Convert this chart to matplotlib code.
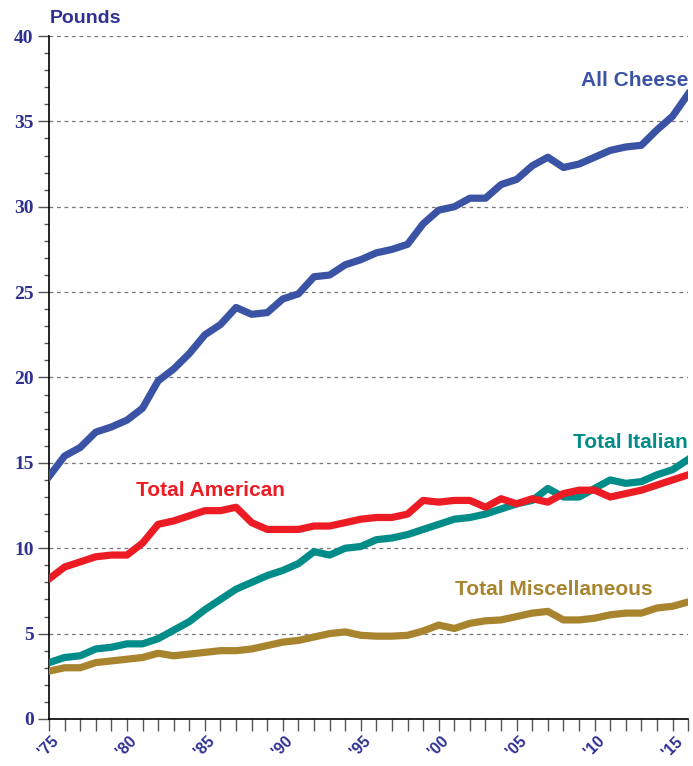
import matplotlib.pyplot as plt
import matplotlib.transforms as mtransforms
import numpy as np
from matplotlib.ticker import MultipleLocator

years = np.arange(1975, 2017)

all_cheese = [14.2, 15.4, 15.9, 16.8, 17.1, 17.5, 18.2, 19.8, 20.5, 21.4,
              22.5, 23.1, 24.1, 23.7, 23.8, 24.6, 24.9, 25.9, 26.0, 26.6,
              26.9, 27.3, 27.5, 27.8, 29.0, 29.8, 30.0, 30.5, 30.5, 31.3,
              31.6, 32.4, 32.9, 32.3, 32.5, 32.9, 33.3, 33.5, 33.6, 34.5,
              35.3, 36.6]
american = [8.2, 8.9, 9.2, 9.5, 9.6, 9.6, 10.3, 11.4, 11.6, 11.9,
             12.2, 12.2, 12.4, 11.5, 11.1, 11.1, 11.1, 11.3, 11.3, 11.5,
             11.7, 11.8, 11.8, 12.0, 12.8, 12.7, 12.8, 12.8, 12.4, 12.9,
             12.6, 12.9, 12.7, 13.2, 13.4, 13.4, 13.0, 13.2, 13.4, 13.7,
             14.0, 14.3]
italian = [3.3, 3.6, 3.7, 4.1, 4.2, 4.4, 4.4, 4.7, 5.2, 5.7,
           6.4, 7.0, 7.6, 8.0, 8.4, 8.7, 9.1, 9.8, 9.6, 10.0,
           10.1, 10.5, 10.6, 10.8, 11.1, 11.4, 11.7, 11.8, 12.0, 12.3,
           12.6, 12.8, 13.5, 13.0, 13.0, 13.5, 14.0, 13.8, 13.9, 14.3,
           14.6, 15.2]
misc = [2.8, 3.0, 3.0, 3.3, 3.4, 3.5, 3.6, 3.85, 3.7, 3.8,
        3.9, 4.0, 4.0, 4.1, 4.3, 4.5, 4.6, 4.8, 5.0, 5.1,
        4.9, 4.85, 4.85, 4.9, 5.15, 5.5, 5.3, 5.6, 5.75, 5.8,
        6.0, 6.2, 6.3, 5.8, 5.8, 5.9, 6.1, 6.2, 6.2, 6.5,
        6.6, 6.85]

label_years = [1975, 1980, 1985, 1990, 1995, 2000, 2005, 2010, 2015]
label_text = ["'75", "'80", "'85", "'90", "'95", "'00", "'05", "'10", "'15"]

navy = '#2E3192'
c_all = '#3A53A4'
c_am = '#ED1C24'
c_it = '#008C88'
c_misc = '#A8842F'

fig = plt.figure(figsize=(6.93, 7.66), dpi=100)
ax = fig.add_axes([0.0707, 0.0614, 0.9223, 0.8916])

for vals, col in [(misc, c_misc), (italian, c_it), (american, c_am), (all_cheese, c_all)]:
    ax.plot(years, vals, color=col, lw=5.2, solid_joinstyle='round', zorder=3)

ax.set_xlim(1975, 2016)
ax.set_ylim(0, 40)

ax.yaxis.set_major_locator(MultipleLocator(5))
ax.yaxis.set_minor_locator(MultipleLocator(1))
ax.set_yticks(np.arange(0, 41, 5))
ax.set_yticklabels([str(v) for v in range(0, 41, 5)], family='Liberation Serif',
                   fontweight='bold', fontsize=14, color=navy)
ax.set_xticks(label_years)
ax.set_xticklabels(label_text, rotation=45, ha='center', va='top',
                   fontsize=11.5, fontweight='bold', color=navy, family='Liberation Sans')
shift = mtransforms.ScaledTranslation(-6 / 100, 0, fig.dpi_scale_trans)
for lab in ax.get_xticklabels():
    lab.set_transform(lab.get_transform() + shift)
ax.xaxis.set_minor_locator(MultipleLocator(1))
ax.tick_params(axis='x', which='both', direction='out', length=8.5, width=1, color='#555555', pad=2)
ax.tick_params(axis='y', which='major', direction='out', length=8, width=1, color='#555555', pad=3)
ax.tick_params(axis='y', which='minor', direction='out', length=3.6, width=1, color='#555555')

ax.grid(axis='y', which='major', linestyle=(0, (3, 3)), color='#777777', lw=0.9)
ax.spines['top'].set_visible(False)
ax.spines['right'].set_visible(False)
ax.spines['left'].set_linewidth(1.2)
ax.spines['bottom'].set_linewidth(1.2)

fig.text(0.072, 0.976, 'Pounds', fontsize=14, fontweight='bold', color=navy,
         family='Liberation Sans', va='center', ha='left')

lab_kw = dict(fontsize=15, fontweight='bold', family='Liberation Sans')
ax.text(2016, 37.4, 'All Cheese', color=c_all, ha='right', va='center', **lab_kw)
ax.text(2016, 16.2, 'Total Italian', color=c_it, ha='right', va='center', **lab_kw)
ax.text(1980.6, 13.4, 'Total American', color=c_am, ha='left', va='center', **lab_kw)
ax.text(2007.4, 7.6, 'Total Miscellaneous', color=c_misc, ha='center', va='center', **lab_kw)

fig.savefig('out.png', dpi=100)
